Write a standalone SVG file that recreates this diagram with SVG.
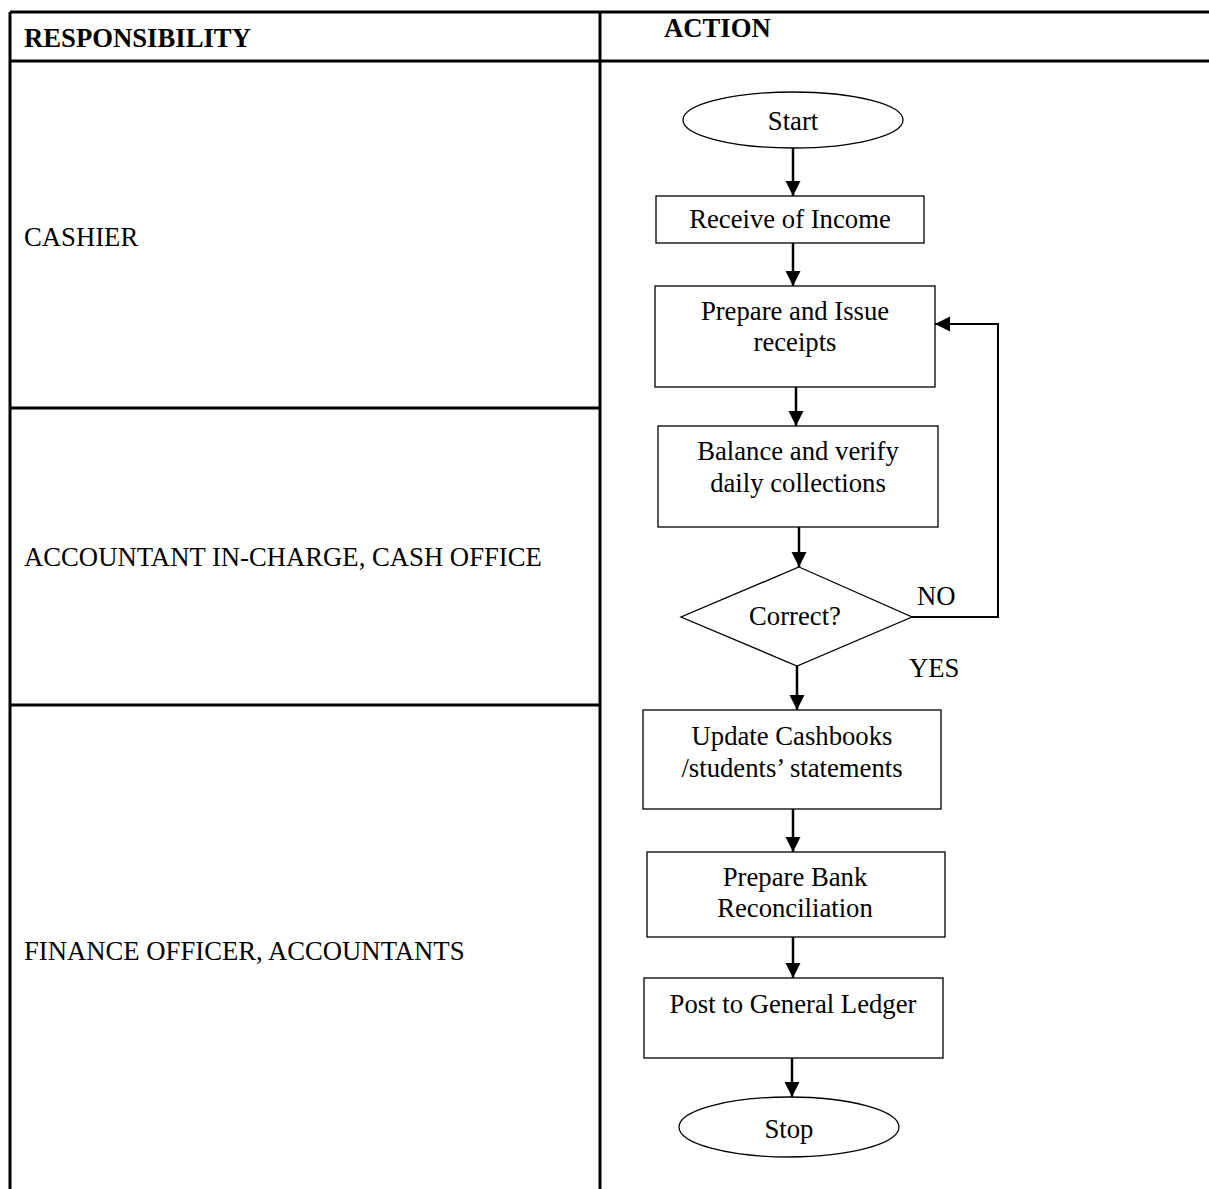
<svg xmlns="http://www.w3.org/2000/svg" width="1209" height="1189" viewBox="0 0 1209 1189">
<style>
text{font-family:"Liberation Serif","Times New Roman",serif;font-size:26.7px;fill:#000}
.hd{font-weight:bold}
.mid{text-anchor:middle}
.grid{stroke:#000;stroke-width:3;fill:none}
.shape{fill:#fff;stroke:#000;stroke-width:1.3}
.conn{stroke:#000;stroke-width:2.5;fill:none}
.conn1{stroke:#000;stroke-width:2;fill:none}
</style>
<defs>
<marker id="ah" markerUnits="userSpaceOnUse" markerWidth="16" markerHeight="16" refX="15" refY="7.5" orient="auto">
<path d="M0,0 L15,7.5 L0,15 z" fill="#000"/>
</marker>
</defs>
<rect width="1209" height="1189" fill="#fff"/>
<g id="table">
<path class="grid" d="M10,12 H1209 M10,61 H1209 M10,12 V1189 M600,12 V1189 M10,408 H600 M10,705 H600"/>
<text class="hd" x="24" y="47">RESPONSIBILITY</text>
<text class="hd" x="664" y="37">ACTION</text>
<text x="24" y="246">CASHIER</text>
<text x="24" y="566">ACCOUNTANT IN-CHARGE, CASH OFFICE</text>
<text x="24" y="960">FINANCE OFFICER, ACCOUNTANTS</text>
</g>
<g id="connectors">
<line class="conn" x1="793" y1="148" x2="793" y2="196" marker-end="url(#ah)"/>
<line class="conn" x1="793" y1="243" x2="793" y2="286" marker-end="url(#ah)"/>
<line class="conn" x1="796" y1="387" x2="796" y2="426" marker-end="url(#ah)"/>
<line class="conn" x1="799" y1="527" x2="799" y2="567" marker-end="url(#ah)"/>
<line class="conn" x1="797" y1="666" x2="797" y2="710" marker-end="url(#ah)"/>
<line class="conn" x1="793" y1="809" x2="793" y2="852" marker-end="url(#ah)"/>
<line class="conn" x1="793" y1="937" x2="793" y2="978" marker-end="url(#ah)"/>
<line class="conn" x1="792" y1="1056" x2="792" y2="1097" marker-end="url(#ah)"/>
<polyline class="conn1" points="912,617 998,617 998,324 935,324" marker-end="url(#ah)"/>
<text x="917" y="605">NO</text>
<text x="909" y="677">YES</text>
</g>
<g id="start">
<ellipse class="shape" cx="793" cy="120" rx="110" ry="28"/>
<text class="mid" x="793" y="130">Start</text>
</g>
<g id="receive">
<rect class="shape" x="656" y="196" width="268" height="47"/>
<text class="mid" x="790" y="228">Receive of Income</text>
</g>
<g id="prepare">
<rect class="shape" x="655" y="286" width="280" height="101"/>
<text class="mid" x="795" y="320">Prepare and Issue</text>
<text class="mid" x="795" y="351">receipts</text>
</g>
<g id="balance">
<rect class="shape" x="658" y="426" width="280" height="101"/>
<text class="mid" x="798" y="460">Balance and verify</text>
<text class="mid" x="798" y="492">daily collections</text>
</g>
<g id="correct">
<polygon class="shape" points="799,567 912,617 797,666 681,617"/>
<text class="mid" x="795" y="625">Correct?</text>
</g>
<g id="update">
<rect class="shape" x="643" y="710" width="298" height="99"/>
<text class="mid" x="792" y="745">Update Cashbooks</text>
<text class="mid" x="792" y="777">/students’ statements</text>
</g>
<g id="bank">
<rect class="shape" x="647" y="852" width="298" height="85"/>
<text class="mid" x="795" y="886">Prepare Bank</text>
<text class="mid" x="795" y="917">Reconciliation</text>
</g>
<g id="ledger">
<rect class="shape" x="644" y="978" width="299" height="80"/>
<text class="mid" x="793" y="1013">Post to General Ledger</text>
</g>
<g id="stop">
<ellipse class="shape" cx="789" cy="1127" rx="110" ry="30"/>
<text class="mid" x="789" y="1138">Stop</text>
</g>
</svg>
